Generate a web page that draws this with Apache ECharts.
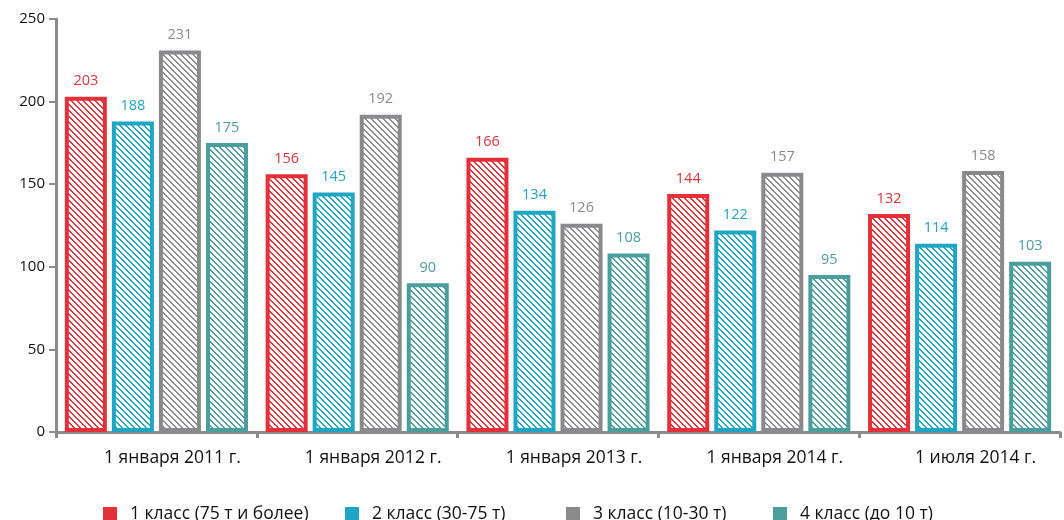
<!DOCTYPE html>
<html>
<head>
<meta charset="utf-8">
<script src="https://cdn.jsdelivr.net/npm/echarts@6/dist/echarts.min.js"></script>
<style>
  html, body { margin: 0; padding: 0; background: #fff; }
  #main { width: 1064px; height: 520px; }
</style>
</head>
<body>
<div id="main"></div>
<script>
const categories = ['1 января 2011 г.', '1 января 2012 г.', '1 января 2013 г.', '1 января 2014 г.', '1 июля 2014 г.'];
const seriesNames = ['1 класс (75 т и более)', '2 класс (30-75 т)', '3 класс (10-30 т)', '4 класс (до 10 т)'];
const class1 = [203, 156, 166, 144, 132];
const class2 = [188, 145, 134, 122, 114];
const class3 = [231, 192, 126, 157, 158];
const class4 = [175, 90, 108, 95, 103];
const yTicks = [0, 50, 100, 150, 200, 250];

const colors = ['#e5303a', '#1ea6c4', '#8a8a8c', '#4a9e9c'];
const legendLeft = [98, 340, 561, 768];

// diagonal hatch, white background
function hatch(color) {
  const size = 6;
  const c = document.createElement('canvas');
  c.width = size; c.height = size;
  const ctx = c.getContext('2d');
  ctx.fillStyle = '#fff';
  ctx.fillRect(0, 0, size, size);
  ctx.fillStyle = color;
  for (let y = 0; y < size; y++) {
    for (let x = 0; x < size; x++) {
      const d = ((x - y) % size + size) % size;
      if (d === 0 || d === 1) ctx.fillRect(x, y, 1, 1);
    }
  }
  return { image: c, repeat: 'repeat' };
}

const chart = echarts.init(document.getElementById('main'));
const font = '"Open Sans", "DejaVu Sans", sans-serif';

const data = [class1, class2, class3, class4];

const option = {
  animation: false,
  textStyle: { fontFamily: font },
  grid: { left: 56, right: 4, top: 19, bottom: 88 },
  legend: seriesNames.map((n, i) => ({
    data: [n],
    left: legendLeft[i],
    top: 500,
    icon: 'rect',
    itemWidth: 14,
    itemHeight: 14,
    itemStyle: { color: colors[i], borderWidth: 0 },
    textStyle: { fontSize: 17.5, color: '#111', fontFamily: font, padding: [0, 0, 0, 8] }
  })),
  xAxis: {
    type: 'category',
    data: categories,
    axisLine: { lineStyle: { color: '#8c8c8c', width: 3 } },
    axisTick: { show: true, length: 6, lineStyle: { color: '#8c8c8c', width: 3 } },
    axisLabel: { fontSize: 17.5, color: '#111', margin: 17, padding: [0, 0, 0, 32] }
  },
  yAxis: {
    type: 'value',
    min: 0, max: 250, interval: 50,
    splitLine: { show: false },
    axisLine: { show: true, lineStyle: { color: '#8c8c8c', width: 3 } },
    axisTick: { show: true, length: 7, lineStyle: { color: '#8c8c8c', width: 2 } },
    axisLabel: { fontSize: 15, color: '#111', margin: 11,
      formatter: v => yTicks.includes(v) ? String(v) : '' }
  },
  series: data.map((d, i) => ({
    name: seriesNames[i],
    type: 'bar',
    data: d,
    barWidth: 42,
    barGap: '12%',
    itemStyle: { color: hatch(colors[i]), borderColor: colors[i], borderWidth: 4 },
    label: { show: true, position: 'top', distance: 8, color: colors[i], fontSize: 14.5, fontFamily: font }
  }))
};

option && chart.setOption(option);
</script>
</body>
</html>
